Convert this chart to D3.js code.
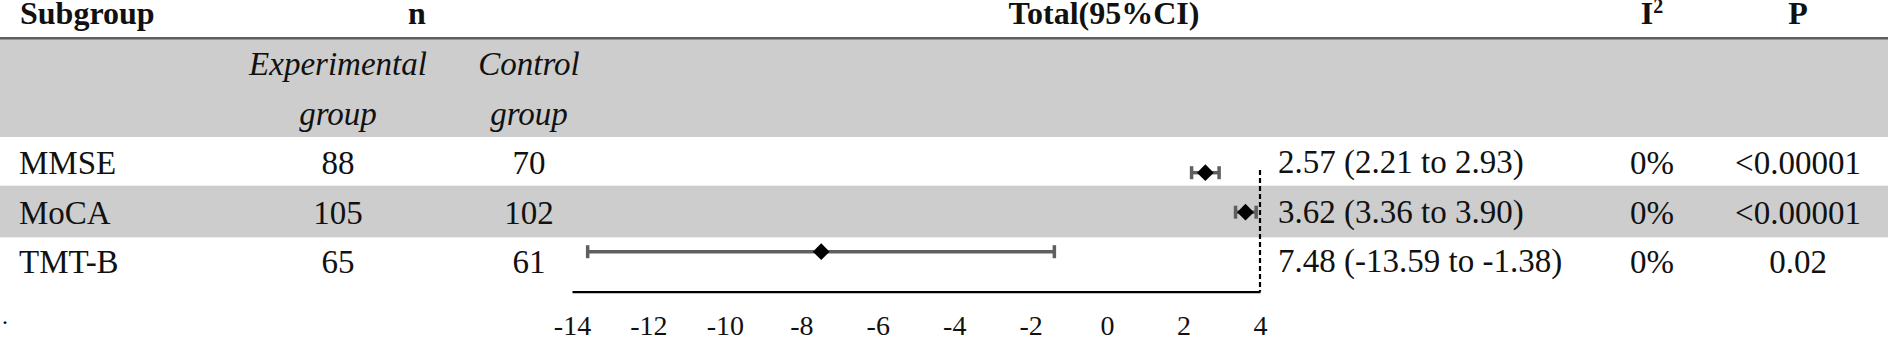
<!DOCTYPE html>
<html>
<head>
<meta charset="utf-8">
<script src="https://cdn.jsdelivr.net/npm/d3@7"></script>
<style>
  body { margin: 0; background: #fff; }
</style>
</head>
<body>
<div id="forest"></div>
<script>
// data
let subgroups = ["MMSE", "MoCA", "TMT-B"];
let n_exp = [88, 105, 65];
let n_ctrl = [70, 102, 61];
let est = [2.57, 3.62, -7.48];
let ci_lo = [2.21, 3.36, -13.59];
let ci_hi = [2.93, 3.90, -1.38];
let est_labels = ["2.57 (2.21 to 2.93)", "3.62 (3.36 to 3.90)", "7.48 (-13.59 to -1.38)"];
let i2_labels = ["0%", "0%", "0%"];
let p_labels = ["<0.00001", "<0.00001", "0.02"];
let x_ticks = [-14, -12, -10, -8, -6, -4, -2, 0, 2, 4];

let config_size = {
    svg_width: 1890,
    svg_height: 337,
    font_bold: 32,
    font: 33,
};
let serif = '"Liberation Serif"';

let rows = subgroups.map((s, i) => ({
    name: s, n_exp: n_exp[i], n_ctrl: n_ctrl[i],
    est: est[i], lo: ci_lo[i], hi: ci_hi[i],
    label: est_labels[i], i2: i2_labels[i], p: p_labels[i], idx: i
}));

let svg = d3.select("#forest")
    .append("svg")
    .attr("width", config_size.svg_width).attr("height", config_size.svg_height);

// column centres
let col = { sub: 19, exp: 338, ctrl: 529, n: 417, total: 1104, est: 1278, i2: 1652, p: 1798 };

// header band + rule
svg.append("rect").attr("x", 0).attr("y", 39).attr("width", 1888).attr("height", 98).attr("fill", "#cdcdcd");
svg.append("rect").attr("x", 0).attr("y", 37).attr("width", 1888).attr("height", 2.5).attr("fill", "#5f5f5f");

// row bands
let row_band = d3.scaleBand().domain(subgroups).range([134, 289]);
svg.append("g").selectAll("rect")
    .data(rows.filter(d => d.idx % 2 === 1))
    .join("rect")
    .attr("x", 0).attr("width", 1888)
    .attr("y", d => row_band(d.name)).attr("height", row_band.bandwidth())
    .attr("fill", "#cdcdcd");

// header text
let head = svg.append("g").attr("font-size", config_size.font_bold).attr("font-weight", "bold").attr("fill", "#111");
head.append("text").attr("x", col.sub + 1).attr("y", 24).text("Subgroup");
head.append("text").attr("x", col.n).attr("y", 24).attr("text-anchor", "middle").text("n");
head.append("text").attr("x", col.total).attr("y", 24).attr("text-anchor", "middle").text("Total(95%CI)");
let i2h = head.append("text").attr("x", col.i2).attr("y", 24).attr("text-anchor", "middle");
i2h.append("tspan").text("I");
i2h.append("tspan").attr("font-size", 20).attr("dy", -11).text("2");
head.append("text").attr("x", col.p).attr("y", 24).attr("text-anchor", "middle").text("P");

let sub = svg.append("g").attr("font-size", config_size.font).attr("font-style", "italic")
    .attr("text-anchor", "middle").attr("fill", "#111");
sub.append("text").attr("x", col.exp).attr("y", 75).text("Experimental");
sub.append("text").attr("x", col.exp).attr("y", 125).text("group");
sub.append("text").attr("x", col.ctrl).attr("y", 75).text("Control");
sub.append("text").attr("x", col.ctrl).attr("y", 125).text("group");

// table body
let text_y = d3.scalePoint().domain(subgroups).range([174, 273]);
let body = svg.append("g").attr("font-size", config_size.font).attr("fill", "#111");
let row_g = body.selectAll("g").data(rows).join("g")
    .attr("transform", d => `translate(0,${text_y(d.name)})`);
row_g.append("text").attr("x", col.sub).text(d => d.name);
row_g.append("text").attr("x", col.exp).attr("text-anchor", "middle").text(d => d.n_exp);
row_g.append("text").attr("x", col.ctrl).attr("text-anchor", "middle").text(d => d.n_ctrl);
row_g.append("text").attr("x", col.est).attr("y", -1).text(d => d.label);
row_g.append("text").attr("x", col.i2).attr("text-anchor", "middle").text(d => d.i2);
row_g.append("text").attr("x", col.p).attr("text-anchor", "middle").text(d => d.p);

svg.append("text").attr("x", 2).attr("y", 324).attr("font-size", 24).text(".");

// forest plot
let x = d3.scaleLinear().domain([-14, 4]).range([572, 1260]);
let y = d3.scalePoint().domain(subgroups).range([172.7, 251.7]);
let axis_y = 291.7;

let axis_g = svg.append("g").attr("transform", `translate(0,${axis_y})`)
    .call(d3.axisBottom(x).tickValues(x_ticks).tickSize(0).tickPadding(25).tickFormat(d3.format("d")));
axis_g.attr("font-size", 28);
axis_g.select(".domain").attr("stroke", "#000").attr("stroke-width", 2.2);
axis_g.selectAll(".tick text")
    .attr("fill", "#111")
    .attr("dy", 0).attr("y", 43)
    .text(d => d < 0 ? "-" + Math.abs(d) : d);

// every label in the serif face
svg.selectAll("text").style("font-family", serif);

// reference line at the right edge
svg.append("line")
    .attr("x1", x(4)).attr("x2", x(4))
    .attr("y1", 170).attr("y2", axis_y)
    .attr("stroke", "#000").attr("stroke-width", 2.2).attr("stroke-dasharray", "5,3");

let ci_g = svg.append("g").selectAll("g").data(rows).join("g")
    .attr("transform", d => `translate(0,${y(d.name)})`);
ci_g.append("line")
    .attr("x1", d => x(d.lo)).attr("x2", d => x(d.hi))
    .attr("stroke", "#5f5f5f").attr("stroke-width", 3.5);
ci_g.selectAll(".cap").data(d => [d.lo, d.hi]).join("line").attr("class", "cap")
    .attr("x1", v => x(v)).attr("x2", v => x(v))
    .attr("y1", -6.5).attr("y2", 6.5)
    .attr("stroke", "#5f5f5f").attr("stroke-width", 3.5);
ci_g.append("path")
    .attr("d", d3.symbol(d3.symbolSquare, 140))
    .attr("transform", d => `translate(${x(d.est)},0) rotate(45)`)
    .attr("fill", "#000");
</script>
</body>
</html>
